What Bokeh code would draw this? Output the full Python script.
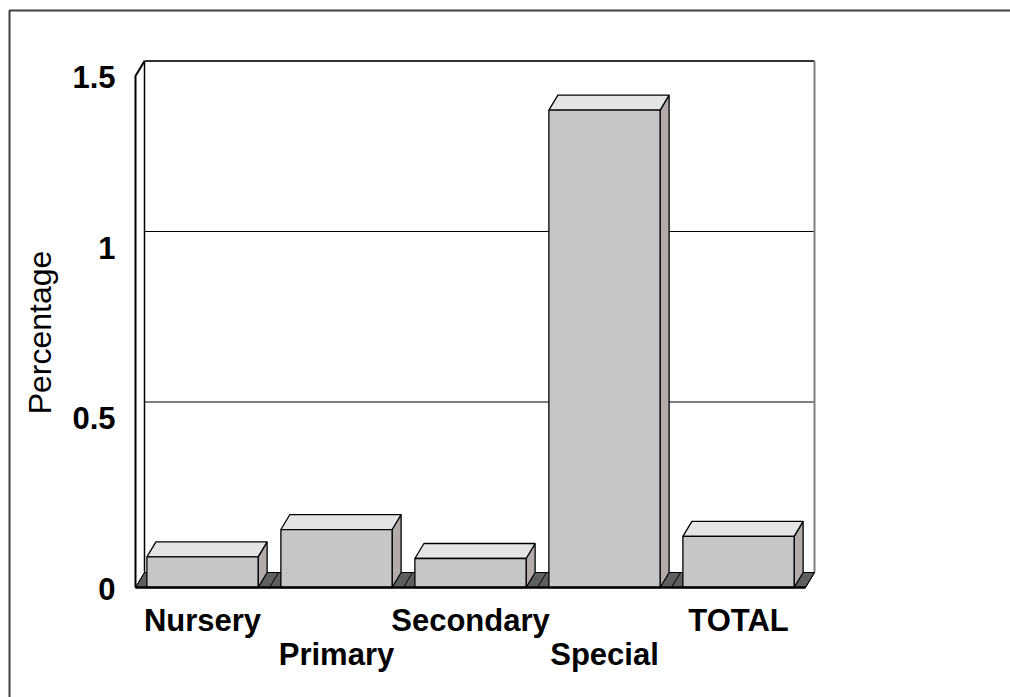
from bokeh.plotting import figure
from bokeh.models import Range1d
from bokeh.embed import file_html
from bokeh.resources import INLINE
from bokeh.core.properties import value
import math

# ---- data ----
categories = ["Nursery", "Primary", "Secondary", "Special", "TOTAL"]
percentages = [0.09, 0.17, 0.085, 1.4, 0.15]
y_ticks = [0, 0.5, 1, 1.5]
y_tick_labels = ["0", "0.5", "1", "1.5"]
y_title = "Percentage"

# ---- canvas / scale setup ----
W, H = 1010, 697
X0_PX, Y0_PX = 135, 587          # front-left corner of the floor
SLOT_PX, UNIT_PX = 134, 341      # pixels per category slot, per 1.0 on the value axis

def xd(px):
    return (px - X0_PX) / SLOT_PX

def yd(py):
    return (Y0_PX - py) / UNIT_PX

DX = 9 / SLOT_PX                 # depth offset (x)
DY = 15 / UNIT_PX                # depth offset (y)
YMAX = 1.5
N = len(categories)
BAR_W = 0.83

p = figure(width=W, height=H, output_backend="svg", toolbar_location=None,
           x_axis_type=None, y_axis_type=None, min_border=0,
           x_range=Range1d(xd(0), xd(W)), y_range=Range1d(yd(H), yd(0)))
p.grid.visible = False
p.outline_line_color = None
p.background_fill_color = "white"
p.border_fill_color = "white"

# outer frame (top and left edges)
p.line([xd(9), xd(9), xd(W + 5)], [yd(H + 5), yd(10), yd(10)],
       line_color="#404040", line_width=2)

# back wall
p.patch([DX, N + DX, N + DX, DX], [DY, DY, YMAX + DY, YMAX + DY],
        fill_color="white", line_color=None)
# gridlines on back wall
for t in y_ticks[1:-1]:
    p.line([DX, N + DX], [t + DY, t + DY], line_color="black", line_width=1)
    p.line([0, DX], [t, t + DY], line_color="black", line_width=1)
# back wall top and right edges
p.line([DX, N + DX], [YMAX + DY, YMAX + DY], line_color="#333333", line_width=2)
p.line([N + DX, N + DX], [DY, YMAX + DY], line_color="#808080", line_width=2)

# left wall
p.patch([0, DX, DX, 0], [0, DY, YMAX + DY, YMAX], fill_color="white",
        line_color=None)
p.line([DX, DX], [DY, YMAX + DY], line_color="black", line_width=1.5)
p.line([0, 0, DX], [0, YMAX, YMAX + DY], line_color="black", line_width=2)

# floor
p.patch([0, N, N + DX, DX], [0, 0, DY, DY], fill_color="#5f5f5f",
        line_color="black", line_width=1)
for k in range(N + 1):
    p.line([k, k + DX], [0, DY], line_color="black", line_width=1)

# bars
fx, fy, tx, ty, sx, sy = [], [], [], [], [], []
for i, v in enumerate(percentages):
    x0 = i + 0.5 - BAR_W / 2
    x1 = i + 0.5 + BAR_W / 2
    fx.append([x0, x1, x1, x0]); fy.append([0, 0, v, v])
    tx.append([x0, x1, x1 + DX, x0 + DX]); ty.append([v, v, v + DY, v + DY])
    sx.append([x1, x1 + DX, x1 + DX, x1]); sy.append([0, DY, v + DY, v])

p.patches(sx, sy, fill_color="#b3aba9", line_color="black", line_width=1.3)
p.patches(tx, ty, fill_color="#e4e4e4", line_color="black", line_width=1.3)
p.patches(fx, fy, fill_color="#c6c6c6", line_color="black", line_width=1.3)

# floor front edge
p.line([0, N], [0, 0], line_color="black", line_width=2.5)

# value-axis labels
p.text(x=[0] * len(y_ticks), y=y_ticks, text=y_tick_labels,
       x_offset=-20, y_offset=1, text_align="right", text_baseline="alphabetic",
       text_font=value("Liberation Sans"), text_font_style="bold",
       text_font_size="31px", text_color="black")

# category labels, staggered on two rows
cx = [i + 0.5 for i in range(N)]
row1 = [i for i in range(N) if i % 2 == 0]
row2 = [i for i in range(N) if i % 2 == 1]
p.text(x=[cx[i] for i in row1], y=[0] * len(row1),
       text=[categories[i] for i in row1], y_offset=33,
       text_align="center", text_baseline="alphabetic",
       text_font=value("Liberation Sans"), text_font_style="bold",
       text_font_size="31px", text_color="black")
p.text(x=[cx[i] for i in row2], y=[0] * len(row2),
       text=[categories[i] for i in row2], y_offset=67,
       text_align="center", text_baseline="alphabetic",
       text_font=value("Liberation Sans"), text_font_style="bold",
       text_font_size="31px", text_color="black")

# axis title
p.text(x=[xd(39)], y=[yd(332)], text=[y_title], angle=math.pi / 2,
       text_align="center", text_baseline="alphabetic",
       text_font=value("Liberation Sans"), text_font_size="32px",
       text_color="black")

open("out.html", "w").write(file_html(p, INLINE))
